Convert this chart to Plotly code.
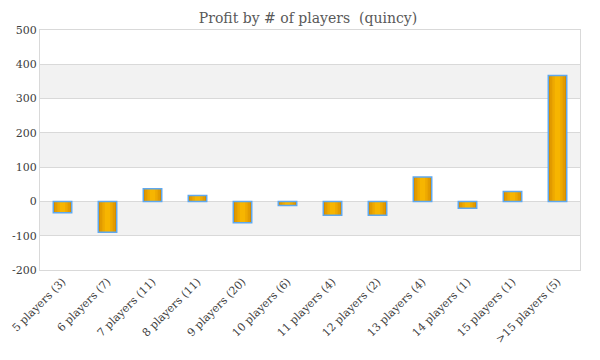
import plotly.graph_objects as go

categories = ["5 players (3)", "6 players (7)", "7 players (11)", "8 players (11)",
              "9 players (20)", "10 players (6)", "11 players (4)", "12 players (2)",
              "13 players (4)", "14 players (1)", "15 players (1)", ">15 players (5)"]
profit = [-33, -90, 37, 17, -62, -12, -40, -40, 71, -20, 29, 367]
y_ticks = [-200, -100, 0, 100, 200, 300, 400, 500]
y_tick_text = ["-200", "-100", "0", "100", "200", "300", "400", "500"]

FONT = "DejaVu Serif"
fig = go.Figure()

# gradient look: overlaid bars from dark edges to bright centre
layers = [(0.41, "#D48C00"), (0.33, "#E29B00"), (0.23, "#EEA900"), (0.12, "#F7B500")]
for w, c in layers:
    fig.add_trace(go.Bar(
        x=categories, y=profit, width=w,
        marker=dict(color=c, line=dict(width=0)),
        showlegend=False))

# outline on top
fig.add_trace(go.Bar(x=categories, y=profit, width=0.41,
                     marker=dict(color="rgba(0,0,0,0)", line=dict(color="#5FA8EE", width=1.5)),
                     showlegend=False, hoverinfo="skip"))

shapes = []
for k in range(len(y_ticks) - 1):
    lo, hi = y_ticks[k], y_ticks[k + 1]
    if (lo // 100) % 2 != 0:
        shapes.append(dict(type="rect", xref="paper", yref="y", x0=0, x1=1, y0=lo, y1=hi,
                           fillcolor="#F2F2F2", line=dict(width=0), layer="below"))

fig.update_layout(
    width=600, height=360,
    margin=dict(l=32, r=28, t=22, b=98),
    paper_bgcolor="white", plot_bgcolor="white",
    barmode="overlay",
    title=dict(text="Profit by # of players  (quincy)", x=0.5, xanchor="center", y=0.985, yanchor="top",
               font=dict(family=FONT, size=14, color="#595959")),
    font=dict(family=FONT, size=11, color="#404040"),
    shapes=shapes,
    xaxis=dict(tickangle=-45, showgrid=False, showline=True, linecolor="#D9D9D9", mirror=True,
               automargin=False,
               tickfont=dict(family=FONT, size=11, color="#404040"), ticks=""),
    yaxis=dict(range=[-200, 500], tickvals=y_ticks, ticktext=y_tick_text, automargin=False,
               showgrid=True, gridcolor="#D9D9D9", gridwidth=1,
               showline=True, linecolor="#D9D9D9", mirror=True, zeroline=True, zerolinecolor="#D9D9D9",
               zerolinewidth=1, tickfont=dict(family=FONT, size=11, color="#404040"), ticks=""),
)

fig.write_html("out.html")
